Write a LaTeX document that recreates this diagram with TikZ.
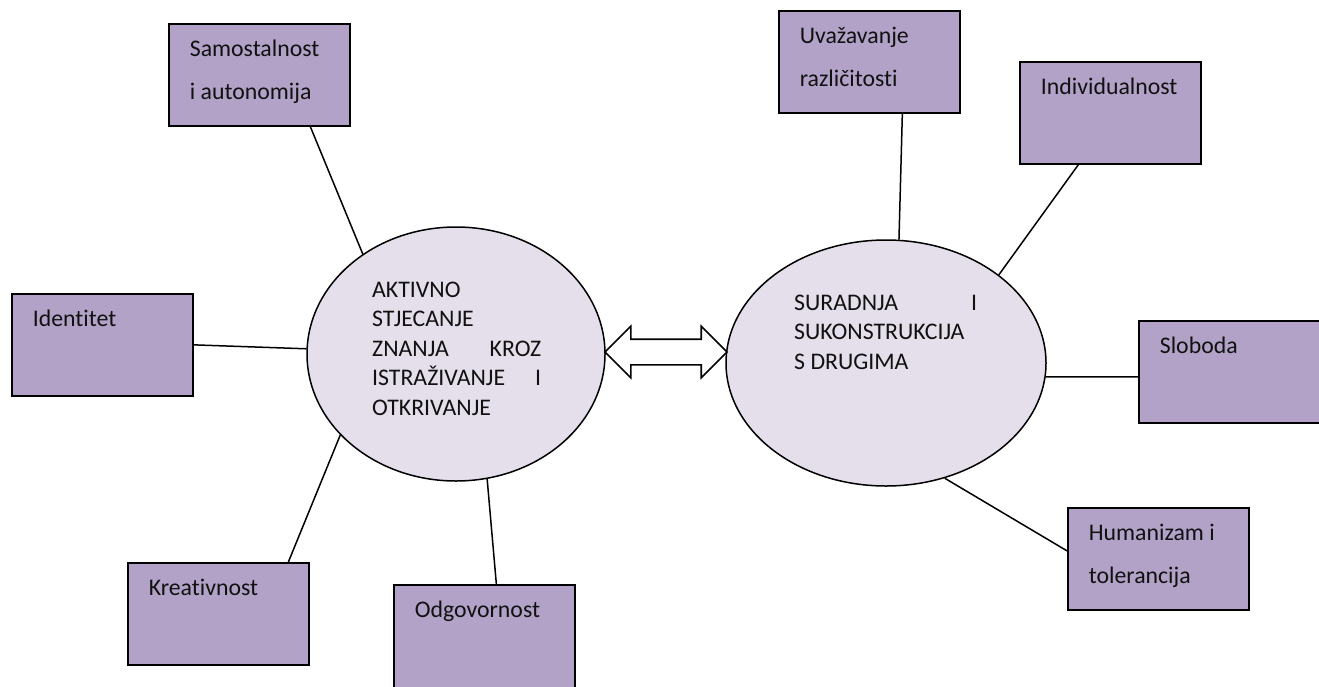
\documentclass[tikz,border=0pt]{standalone}
\usepackage{fontspec}
\setmainfont{Carlito}[Ligatures=NoCommon]
\usetikzlibrary{shapes.geometric,shapes.arrows}
\definecolor{boxfill}{HTML}{B2A2C7}
\definecolor{ellfill}{HTML}{E5DFEC}
\definecolor{txt}{HTML}{111111}
\newcommand{\bxt}[2][102pt]{\parbox[t][#1][t]{181pt}{\fontsize{23.8}{42.5}\selectfont\raggedright\leftskip=21pt\rule{0pt}{33pt}#2}}
\tikzset{
  bx/.style={draw=black, fill=boxfill, line width=1.7pt, inner sep=0pt, anchor=north west, text=txt},
  ell/.style={draw=black, fill=ellfill, ellipse, line width=1.5pt, inner sep=0pt},
  etext/.style={inner sep=0pt, anchor=base west, text=txt, font=\fontsize{23.8}{29.5}\selectfont},
  conn/.style={draw=black, line width=1.5pt},
  darrow/.style={draw=black, fill=white, double arrow, double arrow head extend=13pt, inner xsep=0pt, inner ysep=12pt, minimum height=122pt, line width=1.6pt}
}
\begin{document}
\begin{tikzpicture}[x=1pt,y=-1pt]
\useasboundingbox (0,0) rectangle (1319,686);
\clip (0,0) rectangle (1319,686);
% ellipses
\node[ell, minimum width=298pt, minimum height=254pt] (L) at (456,354) {};
\node[ell, minimum width=320pt, minimum height=246pt] (R) at (886,363) {};
\node[etext] (ltext) at (372,297) {\parbox[t]{169pt}{AKTIVNO\\STJECANJE\\ZNANJA\hfill KROZ\\ISTRAŽIVANJE\hfill I\\OTKRIVANJE}};
\node[etext] (rtext) at (794,310) {\parbox[t]{183pt}{SURADNJA\hfill I\\SUKONSTRUKCIJA\\S DRUGIMA}};
% double arrow
\node[darrow] (arr) at (666,352) {};
% boxes
\node[bx] (samo) at (168,23) {\bxt{Samostalnost\\i autonomija}};
\node[bx] (iden) at (11,293) {\bxt{Identitet}};
\node[bx] (krea) at (127,562) {\bxt{Kreativnost}};
\node[bx] (odgo) at (393,584) {\bxt[108pt]{Odgovornost}};
\node[bx] (uvaz) at (778,10) {\bxt{Uvažavanje\\različitosti}};
\node[bx] (indi) at (1019,61) {\bxt{Individualnost}};
\node[bx] (slob) at (1138,320) {\bxt{Sloboda}};
\node[bx] (huma) at (1067,507) {\bxt{Humanizam i\\tolerancija}};
% connectors
\draw[conn] ([xshift=51pt]samo.south) -- (L.133.5);
\draw[conn] (iden.east) -- (L.178.5);
\draw[conn] ([xshift=70pt]krea.north) -- (L.215.7);
\draw[conn] ([xshift=12pt]odgo.north) -- (L.284.6);
\draw[conn] ([xshift=33pt]uvaz.south) -- (R.84.9);
\draw[conn] ([xshift=-32pt]indi.south) -- (R.38.5);
\draw[conn] ([yshift=-5pt]slob.west) -- (R.355.3);
\draw[conn] ([yshift=8pt]huma.west) -- (R.297.7);
\end{tikzpicture}
\end{document}
